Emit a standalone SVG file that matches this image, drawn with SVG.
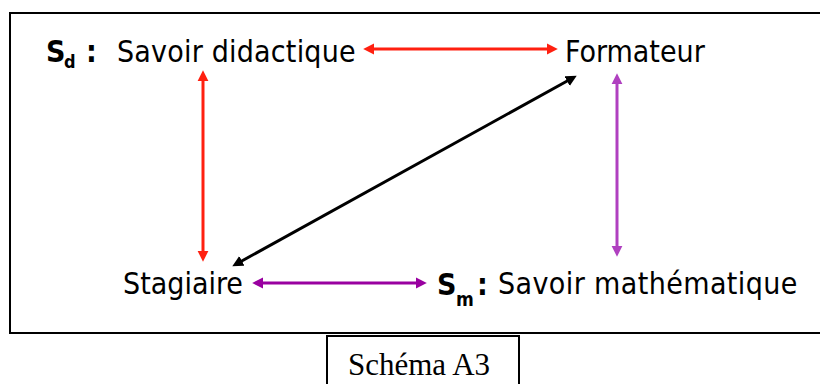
<svg xmlns="http://www.w3.org/2000/svg" width="820" height="384" viewBox="0 0 820 384">
<style>
.t{font-family:"DejaVu Sans Condensed","DejaVu Sans",sans-serif;font-size:30px;fill:#000}
.b{font-family:"DejaVu Sans Condensed","DejaVu Sans",sans-serif;font-weight:bold;fill:#000}
.cap{font-family:"Liberation Serif","Times New Roman",serif;font-size:31px;fill:#000}
.red{stroke:#FF2010;stroke-width:3;fill:none}
.pl{stroke:#B040C0;stroke-width:3;fill:none}
.pd{stroke:#9900A0;stroke-width:3;fill:none}
.bk{stroke:#000;stroke-width:3;fill:none}
</style>
<defs>
<marker id="mr" viewBox="0 0 10 10" refX="2" refY="5" markerWidth="11" markerHeight="12" markerUnits="userSpaceOnUse" orient="auto-start-reverse"><path d="M0,0 L10,5 L0,10 z" fill="#FF2010"/></marker>
<marker id="mpl" viewBox="0 0 10 10" refX="2" refY="5" markerWidth="11" markerHeight="12" markerUnits="userSpaceOnUse" orient="auto-start-reverse"><path d="M0,0 L10,5 L0,10 z" fill="#B040C0"/></marker>
<marker id="mpd" viewBox="0 0 10 10" refX="2" refY="5" markerWidth="11" markerHeight="12" markerUnits="userSpaceOnUse" orient="auto-start-reverse"><path d="M0,0 L10,5 L0,10 z" fill="#9900A0"/></marker>
<marker id="mbk" viewBox="0 0 10 10" refX="2" refY="5" markerWidth="11" markerHeight="12" markerUnits="userSpaceOnUse" orient="auto-start-reverse"><path d="M0,0 L10,5 L0,10 z" fill="#000"/></marker>
</defs>
<rect x="10" y="13" width="830" height="320" fill="none" stroke="#000" stroke-width="2"/>
<g id="connectors">
<line class="red" x1="372" y1="49" x2="549" y2="49" marker-start="url(#mr)" marker-end="url(#mr)"/>
<line class="red" x1="203" y1="79" x2="203" y2="253" marker-start="url(#mr)" marker-end="url(#mr)"/>
<line class="pl" x1="617" y1="82" x2="617" y2="248" marker-start="url(#mpl)" marker-end="url(#mpl)"/>
<line class="pd" x1="261" y1="283" x2="418" y2="283" marker-start="url(#mpd)" marker-end="url(#mpd)"/>
<line class="bk" x1="569" y1="80" x2="240" y2="262" marker-start="url(#mbk)" marker-end="url(#mbk)"/>
</g>
<g id="sd">
<text class="b" x="46" y="62" font-size="30">S</text>
<text class="b" x="64" y="68" font-size="18">d</text>
<text class="b" x="86" y="62" font-size="30">:</text>
<text class="t" x="117" y="62" letter-spacing="0.2">Savoir didactique</text>
</g>
<g id="formateur">
<text class="t" x="565" y="62">Formateur</text>
</g>
<g id="stagiaire">
<text class="t" x="123" y="294">Stagiaire</text>
</g>
<g id="sm">
<text class="b" x="437" y="295" font-size="30">S</text>
<text class="b" x="456" y="306" font-size="19">m</text>
<text class="b" x="477" y="295" font-size="30">:</text>
<text class="t" x="498" y="294" letter-spacing="0.4">Savoir mathématique</text>
</g>
<g id="caption">
<rect x="327" y="336" width="192" height="60" fill="none" stroke="#000" stroke-width="2"/>
<text class="cap" x="348" y="375">Schéma A3</text>
</g>
</svg>
